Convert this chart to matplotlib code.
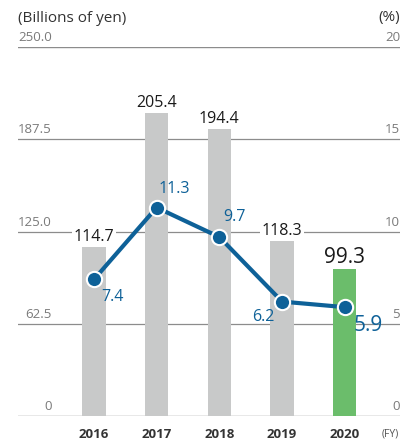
import matplotlib
matplotlib.use("Agg")
from matplotlib import pyplot as plt
from matplotlib import transforms

plt.rcParams['font.family'] = ['Open Sans', 'DejaVu Sans']

# data
years = ["2016", "2017", "2018", "2019", "2020"]
sales = [114.7, 205.4, 194.4, 118.3, 99.3]
ratio = [7.4, 11.3, 9.7, 6.2, 5.9]
left_ticks = [0, 62.5, 125.0, 187.5, 250.0]
left_labels = ["0", "62.5", "125.0", "187.5", "250.0"]
right_labels = ["0", "5", "10", "15", "20"]

gray = "#c8c9c9"
green = "#6bbd6b"
blue = "#0e6198"
grid_c = "#8c8c8c"
tick_c = "#7a7a7a"

fig = plt.figure(figsize=(4.05, 4.42), dpi=100)
ax = fig.add_axes([18 / 405, (442 - 416) / 442, 382 / 405, 369 / 442])

x = list(range(len(years)))
colors = [gray] * 4 + [green]
ax.bar(x, sales, width=0.37, color=colors, zorder=2)
ax.set_xlim(-1.21, 4.88)
ax.set_ylim(0, 250)

for s in ax.spines.values():
    s.set_visible(False)
ax.set_xticks([])
ax.set_yticks([])
for t in left_ticks:
    ax.axhline(t, color=grid_c, lw=1.0 if t in (0, 250) else 0.9, zorder=1)

# tick labels sit above the gridlines
trans = transforms.blended_transform_factory(ax.transAxes, ax.transData)
for t, l, r in zip(left_ticks, left_labels, right_labels):
    ax.annotate(l, (34 / 382, t), xycoords=trans, xytext=(0, 3),
                textcoords="offset pixels", ha="right", va="bottom",
                fontsize=9.5, color=tick_c)
    ax.annotate(r, (1.0, t), xycoords=trans, xytext=(0, 3),
                textcoords="offset pixels", ha="right", va="bottom",
                fontsize=9.5, color=tick_c)

fig.text(18 / 405, 1 - 18 / 442, "(Billions of yen)", fontsize=11,
         color="#333333", va="center", ha="left")
fig.text(400 / 405, 1 - 18 / 442, "(%)", fontsize=11,
         color="#333333", va="center", ha="right")

for i, y in enumerate(years):
    ax.annotate(y, (i, 0), xytext=(0, -18), textcoords="offset pixels",
                ha="center", va="center", fontsize=9.5, fontweight="bold",
                color="#333333")
ax.annotate("(FY)", (1.0, 0), xycoords=trans, xytext=(-10, -18),
            textcoords="offset pixels", ha="center", va="center",
            fontsize=7.5, color="#555555", annotation_clip=False)

# value labels on bars
for i, v in enumerate(sales):
    big = i == len(sales) - 1
    ax.annotate(f"{v:.1f}", (i, v), xytext=(0, 12 if big else 10),
                textcoords="offset pixels", ha="center", va="center",
                fontsize=15 if big else 11.5, color="#1a1a1a",
                bbox=dict(facecolor="white", edgecolor="none", pad=1),
                zorder=3)

# ratio line
ax2 = ax.twinx()
ax2.set_ylim(0, 20)
ax2.set_xlim(-1.21, 4.88)
for s in ax2.spines.values():
    s.set_visible(False)
ax2.set_yticks([])
ax2.plot(x, ratio, color=blue, lw=3, marker="o", ms=11,
         markerfacecolor=blue, markeredgecolor="white", markeredgewidth=1.5,
         zorder=4)

offsets = [(19, -18), (18, 19), (15, 20), (-19, -15), (23, -18)]
for i, (v, off) in enumerate(zip(ratio, offsets)):
    big = i == len(ratio) - 1
    ax2.annotate(f"{v:.1f}", (i, v), xytext=off, textcoords="offset pixels",
                 ha="center", va="center", fontsize=15 if big else 11.5,
                 color=blue, zorder=5)

fig.savefig("out.png", dpi=100)
